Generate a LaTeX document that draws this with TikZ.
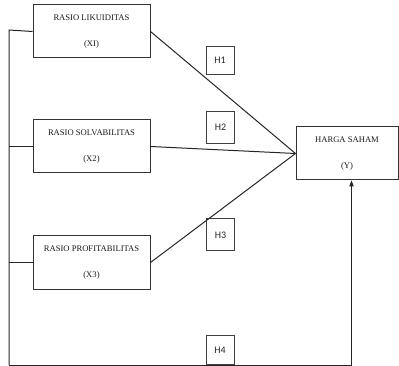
\documentclass[tikz,border=0pt]{standalone}
\usepackage{fontspec}
\setmainfont{Liberation Serif}
\newfontfamily\hfont{Carlito}
\usepackage{tikz}
\usetikzlibrary{arrows.meta}

\begin{document}
\begin{tikzpicture}[
  x=1pt, y=1pt,
  box/.style={
    rectangle, draw=black!80, line width=1pt,
    minimum width=#1, minimum height=53pt, inner sep=0pt,
    align=center, font=\fontsize{8.6}{26}\selectfont, text=black!90
  },
  box/.default=117pt,
  hbox/.style={
    rectangle, draw=black!75, line width=1pt,
    minimum width=28pt, minimum height=32pt, inner sep=0pt,
    font=\hfont\fontsize{10}{12}\selectfont, text=black!85
  },
  link/.style={line width=1pt, black!85},
  arrow/.style={-{Triangle[length=6pt, width=4.5pt]}, line width=1pt, black!85}
]
\useasboundingbox (0,0) rectangle (399,-366);

% Independent variables (left column)
\node[box] (X1) at (91.5, -31.5)  {RASIO LIKUIDITAS\\(XI)};
\node[box] (X2) at (91.5, -146.5) {RASIO SOLVABILITAS\\(X2)};
\node[box] (X3) at (91.5, -262.5) {RASIO PROFITABILITAS\\(X3)};

% Dependent variable
\node[box=102pt] (Y) at (347, -153.5) {HARGA SAHAM\\(Y)};

% Hypothesis labels
\node[hbox, minimum height=28pt] (H1) at (220, -60.5) {H1};
\node[hbox] (H2) at (220.5, -127.5) {H2};
\node[hbox] (H3) at (220.5, -235)   {H3};
\node[hbox, minimum height=29pt, anchor=south] (H4) at (220, -365) {H4};

% Partial effects
\draw[link] (X1.east) -- (Y.west);
\draw[link] (X2.east) -- (Y.west);
\draw[link] (X3.east) -- (Y.west);

% Simultaneous effect
\coordinate (lft) at (9, -30);
\coordinate (bl)  at (9, -365);
\coordinate (br)  at (351.5, -365);
\draw[link] (X1.west) -- (lft) -- (bl);
\draw[link] (X2.west) -- (X2.west -| lft);
\draw[link] (X3.west) -- (X3.west -| lft);
\draw[arrow] (bl) -- (br) -- (br |- Y.south);

\end{tikzpicture}
\end{document}
